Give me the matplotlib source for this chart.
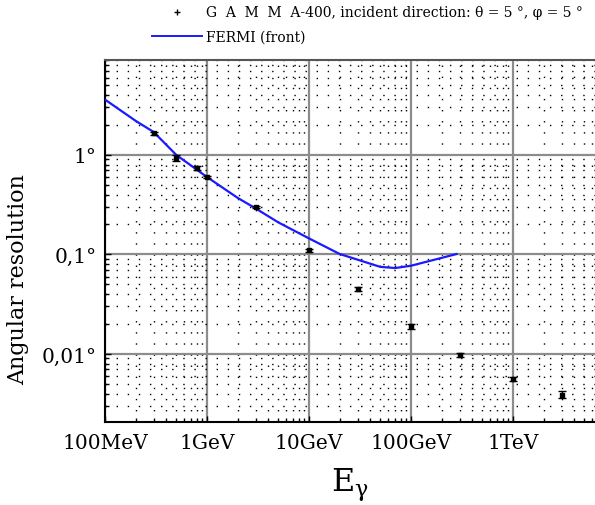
import numpy as np
import matplotlib
matplotlib.use('Agg')
import matplotlib.pyplot as plt
from matplotlib.lines import Line2D
from matplotlib.ticker import FixedLocator, LogLocator, NullFormatter

plt.rcParams['font.family'] = ['DejaVu Serif']
plt.rcParams['mathtext.fontset'] = 'dejavuserif'

# GAMMA-400 points (energy in GeV, angular resolution in degrees)
gammaE = [0.3, 0.5, 0.8, 1.0, 3.0, 10.0, 30.0, 100.0, 300.0, 1000.0, 3000.0]
gammaRes = [1.66, 0.93, 0.74, 0.60, 0.30, 0.11, 0.045, 0.019, 0.0098, 0.0056, 0.0039]
gammaErr = [0.06, 0.06, 0.03, 0.02, 0.01, 0.004, 0.002, 0.001, 0.0004, 0.0003, 0.0003]

# FERMI (front) curve
fermiE = [0.1, 0.2, 0.3, 0.5, 1.0, 2.0, 3.0, 5.0, 10.0, 20.0, 50.0, 70.0, 100.0, 280.0]
fermiRes = [3.6, 2.2, 1.7, 1.0, 0.6, 0.37, 0.29, 0.21, 0.145, 0.101, 0.075, 0.073, 0.077, 0.101]

xTicks = [0.1, 1, 10, 100, 1000]
xLabels = ['100MeV', '1GeV', '10GeV', '100GeV', '1TeV']
yTicks = [0.01, 0.1, 1]
yLabels = ['0,01°', '0,1°', '1°']

fig = plt.figure(figsize=(5.95, 5.06), dpi=100)
ax = fig.add_axes([105/595, 83/506, 510/595, 362/506])
ax.set_xscale('log')
ax.set_yscale('log')
ax.set_xlim(0.1, 10000)
ax.set_ylim(0.00207, 9.0)

# grid: solid grey decades, dotted minor lines
ax.xaxis.set_major_locator(FixedLocator(xTicks + [10000]))
ax.yaxis.set_major_locator(FixedLocator(yTicks))
ax.xaxis.set_minor_locator(LogLocator(base=10, subs=np.arange(2, 10), numticks=20))
ax.yaxis.set_minor_locator(LogLocator(base=10, subs=np.arange(2, 10), numticks=20))
ax.yaxis.set_minor_formatter(NullFormatter())
ax.xaxis.set_minor_formatter(NullFormatter())
ax.grid(which='major', color='#8c8c8c', linewidth=1.6)
ax.grid(which='minor', color='black', linewidth=1.0, linestyle=(0, (1, 7)))
ax.set_axisbelow(True)

ax.set_xticks(xTicks + [10000])
ax.set_xticklabels(xLabels + [''])
ax.set_yticks(yTicks)
ax.set_yticklabels(yLabels)
ax.tick_params(which='both', direction='in', labelsize=14.5, length=4, width=1)
ax.tick_params(which='minor', length=3)
ax.tick_params(axis='x', pad=8)
ax.tick_params(axis='y', pad=6)
for s in ax.spines.values():
    s.set_linewidth(1.5)
    s.set_color('black')
ax.spines['top'].set_color('#555555')

ax.plot(fermiE, fermiRes, color='#1a1aff', linewidth=1.6, zorder=3)
ax.errorbar(gammaE, gammaRes, yerr=gammaErr, fmt='s', color='black', markersize=3,
            capsize=3, elinewidth=1, zorder=4)

ax.set_ylabel('Angular resolution', fontsize=16)
ax.yaxis.set_label_coords(-0.148, 0.395)
ax.set_xlabel(r'E$_\mathrm{\gamma}$', fontsize=23)
ax.xaxis.set_label_coords(0.48, -0.12)

handles = [Line2D([], [], linestyle='none', marker='+', color='black', markersize=4),
           Line2D([], [], color='#1a1aff', linewidth=1.4)]
labels = ['G  A  M  M  A-400, incident direction: θ = 5 °, φ = 5 °', 'FERMI (front)']
fig.legend(handles, labels, loc='upper left', bbox_to_anchor=(0.235, 1.012), frameon=False,
           fontsize=10, handlelength=3.6, handletextpad=0.25, labelspacing=0.75)

plt.savefig('out.png', dpi=100)
